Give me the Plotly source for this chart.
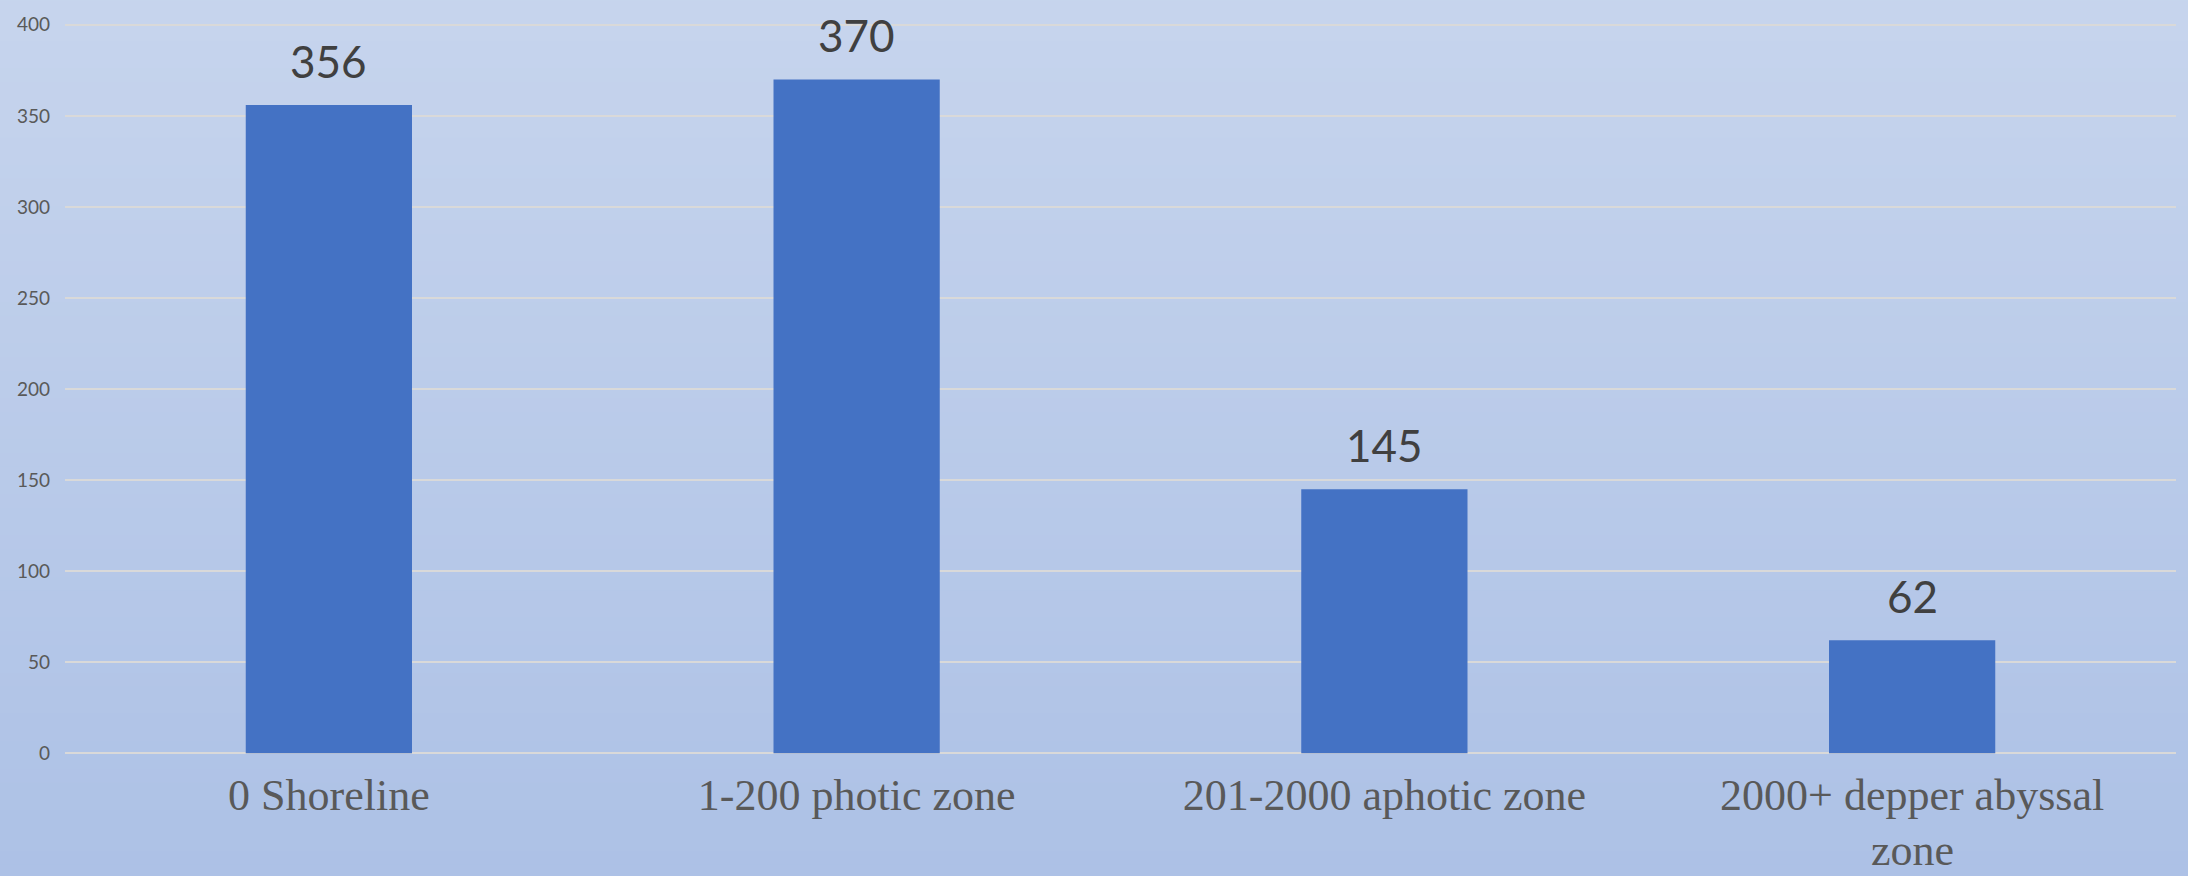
import plotly.graph_objects as go

categories = ["0 Shoreline", "1-200 photic zone", "201-2000 aphotic zone", "2000+ depper abyssal zone"]
tick_first_lines = ["0 Shoreline", "1-200 photic zone", "201-2000 aphotic zone", "2000+ depper abyssal"]
tick_second_lines = ["", "", "", "zone"]
values = [356, 370, 145, 62]
y_ticks = [0, 50, 100, 150, 200, 250, 300, 350, 400]

W, H = 2188, 876

fig = go.Figure()
fig.add_trace(go.Bar(
    x=categories, y=values,
    marker=dict(color="#4472C4", line=dict(width=0)),
    width=0.315,
    hoverinfo="skip",
))

for c, v in zip(categories, values):
    fig.add_annotation(
        x=c, y=v, xref="x", yref="y", text=str(v), showarrow=False,
        yanchor="bottom", yshift=16,
        font=dict(family="Lato", size=44, color="#404040"),
    )

for c, t in zip(categories, tick_second_lines):
    if t:
        fig.add_annotation(
            x=c, y=0, xref="x", yref="paper", text=t, showarrow=False,
            yanchor="middle", yshift=-95, borderpad=0,
            font=dict(family="Liberation Serif", size=44, color="#595959"),
        )

# vertical background gradient
top = (0xCA, 0xD7, 0xEE)
bot = (0xAA, 0xBF, 0xE5)
n = 80
shapes = []
for i in range(n):
    t = i / (n - 1)
    col = tuple(round(top[k] + (bot[k] - top[k]) * t) for k in range(3))
    shapes.append(dict(
        type="rect", xref="paper", yref="paper",
        x0=-0.1, x1=1.1, y1=1.2 - i * (1.5 / n), y0=1.2 - (i + 1) * (1.5 / n) - 0.002,
        fillcolor="rgb(%d,%d,%d)" % col, line=dict(width=0), layer="below",
    ))

fig.update_layout(
    width=W, height=H,
    margin=dict(l=65, r=12, t=16, b=121),
    paper_bgcolor="#AABFE5",
    plot_bgcolor="rgba(0,0,0,0)",
    shapes=shapes,
    showlegend=False,
    bargap=0.685,
    xaxis=dict(
        showgrid=False, showline=False, zeroline=False, ticks="",
        tickmode="array", tickvals=categories, ticktext=tick_first_lines,
        tickfont=dict(family="Liberation Serif", size=44, color="#595959"),
        ticklabelstandoff=10,
    ),
    yaxis=dict(
        range=[-1, 401], tickvals=y_ticks, showgrid=True,
        gridcolor="#D9D9D9", gridwidth=2, zeroline=False, showline=False,
        tickfont=dict(family="Lato", size=19, color="#595959"),
        ticklabelstandoff=14,
    ),
)

fig.write_html(
    "out.html",
    config={"displayModeBar": False},
    post_script="document.body.style.margin='0';document.body.style.background='#AABFE5';",
)
